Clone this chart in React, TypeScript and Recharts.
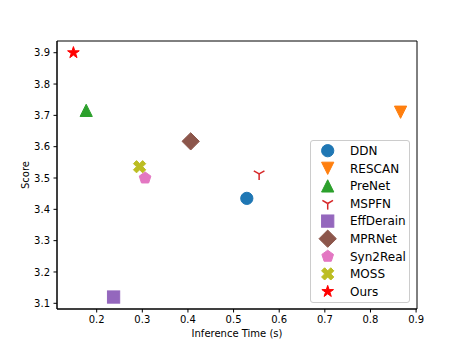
import React from "react";
import {
  ScatterChart, Scatter, XAxis, YAxis, Legend, ReferenceArea,
} from "recharts";

const methods = ["DDN", "RESCAN", "PreNet", "MSPFN", "EffDerain", "MPRNet", "Syn2Real", "MOSS", "Ours"];
const inferenceTime = [0.529, 0.866, 0.177, 0.556, 0.237, 0.406, 0.306, 0.294, 0.149];
const scores = [3.435, 3.71, 3.716, 3.513, 3.12, 3.617, 3.5, 3.536, 3.9];
const markerKinds = ["circle", "triDownFilled", "triUp", "triDownLine", "square", "diamond", "pentagon", "xFilled", "star"];
const colors = ["#1f77b4", "#ff7f0e", "#2ca02c", "#d62728", "#9467bd", "#8c564b", "#e377c2", "#bcbd22", "#ff0000"];

const xTicks = [0.2, 0.3, 0.4, 0.5, 0.6, 0.7, 0.8, 0.9];
const yTicks = [3.1, 3.2, 3.3, 3.4, 3.5, 3.6, 3.7, 3.8, 3.9];
const xDomain = [0.113, 0.902];
const yDomain = [3.0818, 3.9374];

const FONT = "'DejaVu Sans', sans-serif";
const S = 12.25; // marker size in px (sqrt of matplotlib s=150)

function polygon(cx: number, cy: number, pts: number[][]) {
  return pts.map(([x, y]) => `${cx + x},${cy + y}`).join(" ");
}

function Marker({ kind, cx, cy, color }: { kind: string; cx: number; cy: number; color: string }) {
  const h = S / 2;
  const common = { fill: color, stroke: color, strokeWidth: 1 };
  switch (kind) {
    case "circle":
      return <circle cx={cx} cy={cy} r={h} {...common} />;
    case "triDownFilled":
      return <polygon points={polygon(cx, cy, [[0, h], [-h, -h], [h, -h]])} {...common} />;
    case "triUp":
      return <polygon points={polygon(cx, cy, [[0, -h], [-h, h], [h, h]])} {...common} />;
    case "square":
      return <rect x={cx - h} y={cy - h} width={S} height={S} {...common} />;
    case "diamond": {
      const d = h * Math.SQRT2;
      return <polygon points={polygon(cx, cy, [[0, -d], [d, 0], [0, d], [-d, 0]])} {...common} />;
    }
    case "pentagon": {
      const pts = [0, 1, 2, 3, 4].map((i) => {
        const a = -Math.PI / 2 + (i * 2 * Math.PI) / 5;
        return [h * Math.cos(a), h * Math.sin(a)];
      });
      return <polygon points={polygon(cx, cy, pts)} {...common} />;
    }
    case "star": {
      const pts = Array.from({ length: 10 }, (_, i) => {
        const r = i % 2 === 0 ? h : h * 0.381966;
        const a = -Math.PI / 2 + (i * Math.PI) / 5;
        return [r * Math.cos(a), r * Math.sin(a)];
      });
      return <polygon points={polygon(cx, cy, pts)} {...common} />;
    }
    case "xFilled": {
      const raw = [[0.25, 0], [0.5, 0.25], [0.25, 0.5], [0, 0.25], [-0.25, 0.5], [-0.5, 0.25], [-0.25, 0], [-0.5, -0.25], [-0.25, -0.5], [0, -0.25], [0.25, -0.5], [0.5, -0.25]];
      return <polygon points={polygon(cx, cy, raw.map(([x, y]) => [x * S, y * S]))} {...common} />;
    }
    case "triDownLine": {
      const dx = h * 0.8660254;
      return (
        <g stroke={color} strokeWidth={1.5} fill="none">
          <line x1={cx} y1={cy} x2={cx} y2={cy + h} />
          <line x1={cx} y1={cy} x2={cx - dx} y2={cy - h / 2} />
          <line x1={cx} y1={cy} x2={cx + dx} y2={cy - h / 2} />
        </g>
      );
    }
    default:
      return null;
  }
}

const renderLegend = () => (
  <div
    style={{
      boxSizing: "border-box",
      width: 100,
      height: 163,
      border: "1px solid #cccccc",
      borderRadius: 3,
      background: "rgba(255,255,255,0.8)",
    }}
  >
    <svg width={98} height={161} style={{ display: "block" }}>
      {methods.map((m, i) => {
        const cy = 9.7 + i * 17.6;
        return (
          <g key={m}>
            <Marker kind={markerKinds[i]} cx={16.7} cy={cy} color={colors[i]} />
            <text x={39} y={cy + 4.3} fontSize={12} fill="#000" fontFamily={FONT}>{m}</text>
          </g>
        );
      })}
    </svg>
  </div>
);

const YLabel = (props: any) => {
  const vb = props.viewBox || { x: 0, y: 41, width: 57, height: 268 };
  const cx = vb.x + 25.5;
  const cy = vb.y + vb.height / 2;
  return (
    <text x={cx} y={cy} transform={`rotate(-90 ${cx} ${cy})`} textAnchor="middle" dy="0.36em"
      fontSize={10} fill="#000" fontFamily={FONT}>
      Score
    </text>
  );
};

export default function App() {
  const tickStyle = { fill: "#000", fontSize: 10, fontFamily: FONT };
  return (
    <div style={{ position: "absolute", left: 0, top: 0, fontFamily: FONT, background: "#fff" }}>
      <ScatterChart width={463} height={347} margin={{ top: 41, right: 46, bottom: 0, left: 0 }}>
        <XAxis
          type="number"
          dataKey="x"
          domain={xDomain}
          ticks={xTicks}
          allowDataOverflow
          height={38}
          tick={tickStyle}
          tickFormatter={(v) => v.toFixed(1)}
          tickSize={3.5}
          tickMargin={3.5}
          stroke="#000"
          tickLine={{ stroke: "#000" }}
          axisLine={{ stroke: "#000" }}
          label={{ value: "Inference Time (s)", position: "insideBottom", offset: 10, fill: "#000", fontSize: 10, fontFamily: FONT }}
        />
        <YAxis
          type="number"
          dataKey="y"
          domain={yDomain}
          ticks={yTicks}
          allowDataOverflow
          width={57}
          tick={tickStyle}
          tickFormatter={(v) => v.toFixed(1)}
          tickSize={3.5}
          tickMargin={3.5}
          stroke="#000"
          tickLine={{ stroke: "#000" }}
          axisLine={{ stroke: "#000" }}
          label={YLabel}
        />
        <ReferenceArea
          x1={xDomain[0]}
          x2={xDomain[1]}
          y1={yDomain[0]}
          y2={yDomain[1]}
          fill="none"
          stroke="#000"
          strokeWidth={1}
          ifOverflow="visible"
        />
        {methods.map((m, i) => (
          <Scatter
            key={m}
            name={m}
            data={[{ x: inferenceTime[i], y: scores[i] }]}
            fill={colors[i]}
            isAnimationActive={false}
            shape={(p: any) => <Marker kind={markerKinds[i]} cx={p.cx} cy={p.cy} color={colors[i]} />}
          />
        ))}
        <Legend
          layout="horizontal"
          verticalAlign="middle"
          align="center"
          content={renderLegend}
          wrapperStyle={{ left: 310, top: 140, width: 100, height: 163 }}
        />
      </ScatterChart>
    </div>
  );
}
